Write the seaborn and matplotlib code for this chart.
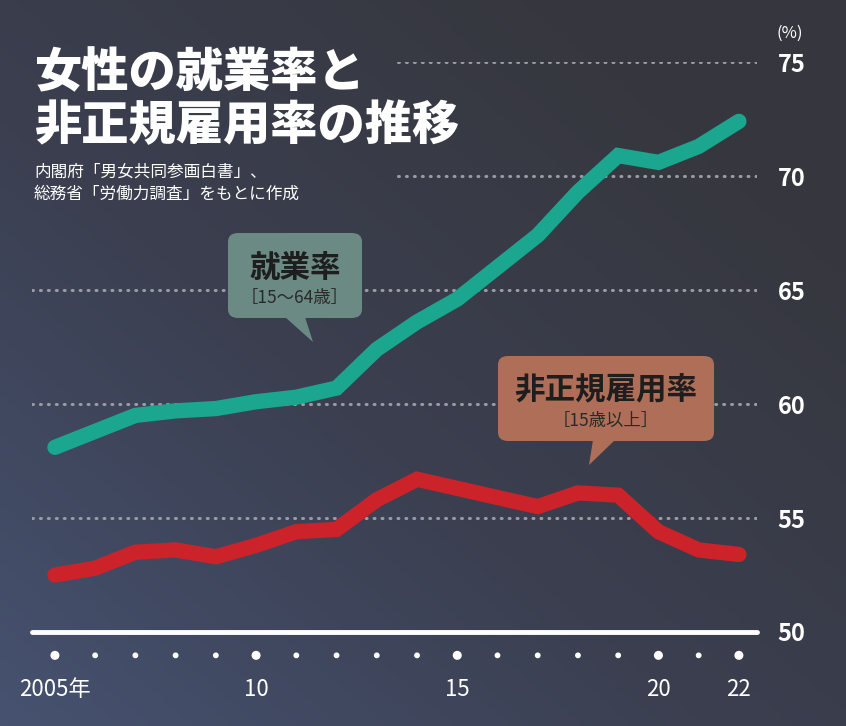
import numpy as np
import pandas as pd
import matplotlib
matplotlib.use("Agg")
import matplotlib.pyplot as plt
import seaborn as sns
from matplotlib.patches import FancyBboxPatch, Polygon
from matplotlib.colors import LinearSegmentedColormap

# data
years = list(range(2005, 2023))
employment_rate = [58.1, 58.8, 59.5, 59.7, 59.8, 60.1, 60.3, 60.7, 62.4, 63.6,
                   64.6, 66.0, 67.4, 69.3, 70.9, 70.6, 71.3, 72.4]
nonregular_rate = [52.5, 52.8, 53.5, 53.6, 53.3, 53.8, 54.4, 54.5, 55.8, 56.7,
                   56.3, 55.9, 55.5, 56.1, 56.0, 54.4, 53.6, 53.4]
ytick_values = [50, 55, 60, 65, 70, 75]
xtick_values = [2005, 2010, 2015, 2020, 2022]
xtick_labels = ["2005年", "10", "15", "20", "22"]

df = pd.DataFrame({"year": years, "employment": employment_rate,
                   "nonregular": nonregular_rate})

sns.set_theme(style="dark")
plt.rcParams["font.family"] = ["Noto Sans CJK JP", "DejaVu Sans"]
num_font = ["Liberation Sans Narrow", "Noto Sans CJK JP", "DejaVu Sans"]

teal = "#1ba78f"
red = "#cc2229"

fig = plt.figure(figsize=(8.46, 7.26), dpi=100)

# background gradient
bg = fig.add_axes([0, 0, 1, 1], zorder=0)
bg.axis("off")
gx, gy = np.meshgrid(np.linspace(0, 1, 200), np.linspace(0, 1, 200))
grad = np.clip(0.6 * gx + 0.6 * (1 - gy), 0, 1)
cmap = LinearSegmentedColormap.from_list("bg", ["#465270", "#3b3f50", "#36373e"])
bg.imshow(grad, cmap=cmap, aspect="auto", extent=[0, 1, 0, 1], origin="upper")

ax = fig.add_axes([0.0378, 0.1295, 0.857, 0.785], zorder=1)
ax.set_facecolor("none")
ax.set_xlim(2004.43, 2022.45)
ax.set_ylim(50, 75)

# dotted gridlines (hidden behind the title at the top)
for v in ytick_values[1:]:
    start = 0.505 if v >= 70 else 0.0
    ax.axhline(v, xmin=start, xmax=1, color="#9a9ca4", lw=2.2,
               ls=(0, (0.3, 2.3)), dash_capstyle="round", zorder=1)
ax.axhline(50, color="white", lw=3.5, zorder=2, clip_on=False)

sns.lineplot(data=df, x="year", y="employment", ax=ax, color=teal, lw=11,
             solid_capstyle="round", solid_joinstyle="miter", zorder=5)
sns.lineplot(data=df, x="year", y="nonregular", ax=ax, color=red, lw=11,
             solid_capstyle="round", solid_joinstyle="miter", zorder=5)

for s in ax.spines.values():
    s.set_visible(False)
ax.grid(False)
ax.set_xlabel("")
ax.set_ylabel("")

ax.yaxis.tick_right()
ax.set_yticks(ytick_values)
ax.set_yticklabels([str(v) for v in ytick_values], fontsize=17,
                   fontweight="bold", color="white", family=num_font)
ax.tick_params(axis="y", length=0, pad=15)
ax.set_xticks(xtick_values)
ax.set_xticklabels(xtick_labels, fontsize=16, color="white", family=num_font)
ax.tick_params(axis="x", length=0, pad=33)

# year dots below the baseline
sizes = [30 if y in xtick_values else 10 for y in years]
ax.scatter(years, [-0.041] * len(years), s=sizes, color="white",
           transform=ax.get_xaxis_transform(), clip_on=False, zorder=3)

ax.text(1.045, 1.05, "(%)", transform=ax.transAxes, fontsize=12,
        color="white", ha="center", va="center")

px = lambda x: x / 846
py = lambda y: 1 - y / 726

# title
fig.text(px(34), py(49), "女性の就業率と\n非正規雇用率の推移", fontsize=34,
         fontweight="heavy", color="white", ha="left", va="top",
         linespacing=1.1)
fig.text(px(34), py(183), "内閣府「男女共同参画白書」、\n総務省「労働力調査」をもとに作成",
         fontsize=12, color="white", ha="left", va="center", linespacing=1.35)

# callouts
def callout(x0, y0, x1, y1, tip, color, title, sub):
    box = FancyBboxPatch((x0, y0), x1 - x0, y1 - y0,
                         boxstyle="round,pad=0,rounding_size=0.012",
                         transform=fig.transFigure, facecolor=color,
                         edgecolor="none", zorder=6)
    fig.add_artist(box)
    tri = Polygon(tip, closed=True, transform=fig.transFigure,
                  facecolor=color, edgecolor="none", zorder=6)
    fig.add_artist(tri)
    cx = (x0 + x1) / 2
    fig.text(cx, y1 - 0.048, title, fontsize=22, fontweight="bold",
             color="#1e1e1e", ha="center", va="center", zorder=7)
    fig.text(cx, y0 + 0.027, sub, fontsize=12.5, color="#2a2a2a",
             ha="center", va="center", zorder=7)

callout(px(228), py(318), px(362), py(233),
        [(px(285), py(317)), (px(313), py(342)), (px(305), py(317))],
        "#6b8a84", "就業率", "［15～64歳］")
callout(px(498), py(441), px(714), py(356),
        [(px(593), py(440)), (px(589), py(465)), (px(615), py(440))],
        "#ae6e58", "非正規雇用率", "［15歳以上］")

fig.savefig("out.png", dpi=100)
